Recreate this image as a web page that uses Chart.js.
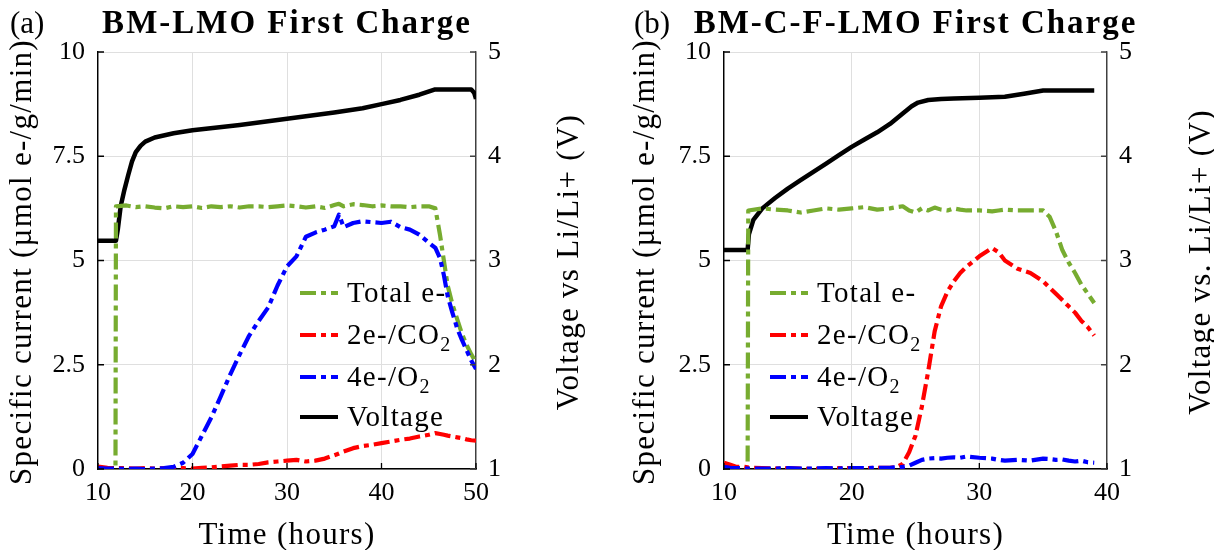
<!DOCTYPE html>
<html>
<head>
<meta charset="utf-8">
<script src="https://cdn.jsdelivr.net/npm/chart.js@4"></script>
<style>
  body { margin: 0; background: #fff; }
  #wrap { position: relative; width: 1214px; height: 550px; }
  canvas { position: absolute; top: 0; }
</style>
</head>
<body>
<div id="wrap">
  <canvas id="chartA" width="607" height="550" style="left:0"></canvas>
  <canvas id="chartB" width="607" height="550" style="left:607px"></canvas>
</div>
<script>
// (a) BM-LMO first charge
const timeA = [10, 11, 11.85, 11.9, 13, 14, 15, 16, 17, 18, 19, 20, 21, 22, 23, 24, 25, 26, 27, 28, 29, 30, 31, 32, 33, 34, 35, 35.5,
               36, 37, 38, 39, 40, 41, 42, 43, 44, 45, 45.7, 46.2, 46.6, 47, 47.5, 48, 48.5, 49, 49.5, 50];
const totalA = [0, 0, 0, 6.3, 6.32, 6.28, 6.3, 6.27, 6.25, 6.3, 6.28, 6.3, 6.26, 6.3, 6.28, 6.3, 6.27, 6.3, 6.3, 6.28, 6.3, 6.32, 6.3, 6.27, 6.3, 6.26, 6.33, 6.36,
                6.3, 6.35, 6.33, 6.3, 6.32, 6.3, 6.3, 6.28, 6.3, 6.3, 6.25, 5.6, 5.0, 4.4, 3.95, 3.6, 3.25, 2.98, 2.75, 2.55];
const co2A = [0.06, 0.03, 0.02, 0.02, 0.02, 0.01, 0.02, 0.01, 0.02, 0.02, 0.02, 0.01, 0.03, 0.04, 0.06, 0.08, 0.1, 0.1, 0.12, 0.16, 0.18, 0.2, 0.22, 0.18, 0.2, 0.25, 0.33, 0.37,
              0.42, 0.5, 0.55, 0.58, 0.62, 0.66, 0.7, 0.73, 0.78, 0.82, 0.86, 0.84, 0.82, 0.8, 0.78, 0.76, 0.74, 0.71, 0.69, 0.68];
const o2A = [0.02, 0.01, 0.01, 0.01, 0, 0.01, 0, 0.01, 0.02, 0.05, 0.15, 0.36, 0.8, 1.24, 1.75, 2.27, 2.75, 3.2, 3.55, 3.87, 4.4, 4.86, 5.1, 5.57, 5.67, 5.74, 5.82, 6.1,
             5.8, 5.9, 5.94, 5.92, 5.9, 5.93, 5.8, 5.74, 5.62, 5.43, 5.3, 5.05, 4.65, 4.15, 3.75, 3.38, 3.1, 2.85, 2.6, 2.4];
const voltTimeA = [10, 11.9, 12.1, 12.4, 12.8, 13.2, 13.6, 14, 14.5, 15, 16, 18, 20, 25, 30, 35, 38, 40, 42, 44, 45.6, 49.5, 49.8, 50];
const voltA = [3.19, 3.19, 3.3, 3.52, 3.68, 3.82, 3.95, 4.04, 4.1, 4.14, 4.18, 4.22, 4.25, 4.3, 4.36, 4.42, 4.46, 4.5, 4.54, 4.59, 4.64, 4.64, 4.61, 4.55];

// (b) BM-C-F-LMO first charge
const timeB = [10, 10.5, 11, 11.5, 11.85, 11.9, 13, 14, 15, 16, 17, 18, 19, 20, 21, 22, 23, 23.5, 24, 24.5, 25, 25.5, 26, 26.5, 27, 27.5, 28, 28.5,
               29, 30, 31, 31.5, 32, 33, 34, 35, 35.5, 36, 36.5, 37, 37.5, 38, 38.5, 39];
const totalB = [0, 0, 0, 0, 0, 6.2, 6.25, 6.22, 6.2, 6.15, 6.2, 6.25, 6.22, 6.25, 6.28, 6.22, 6.25, 6.28, 6.3, 6.2, 6.15, 6.25, 6.2, 6.27, 6.22, 6.2, 6.25, 6.22,
                6.2, 6.2, 6.18, 6.2, 6.22, 6.2, 6.2, 6.2, 6.05, 5.7, 5.25, 4.95, 4.7, 4.42, 4.2, 3.98];
const co2B = [0.15, 0.1, 0.05, 0.06, 0.04, 0.03, 0.02, 0.01, 0.02, 0.01, 0, 0.01, 0.02, 0.02, 0.02, 0.03, 0.03, 0.05, 0.12, 0.4, 0.8, 1.5, 2.35, 3.3, 3.9, 4.25, 4.5, 4.7,
              4.85, 5.1, 5.3, 5.2, 5.0, 4.8, 4.7, 4.5, 4.35, 4.2, 4.05, 3.9, 3.75, 3.55, 3.4, 3.2];
const o2B = [0.05, 0.03, 0.02, 0.02, 0.01, 0.01, 0.01, 0.01, 0.02, 0.01, 0.01, 0.02, 0.01, 0.02, 0.02, 0.03, 0.03, 0.04, 0.05, 0.08, 0.15, 0.22, 0.25, 0.26, 0.25, 0.27, 0.28, 0.27,
             0.3, 0.27, 0.25, 0.22, 0.2, 0.22, 0.2, 0.25, 0.24, 0.22, 0.23, 0.2, 0.18, 0.2, 0.16, 0.15];
const voltTimeB = [10, 11.85, 11.95, 12.3, 13, 14, 15, 16, 17, 18, 19, 20, 21, 22, 23, 24, 24.7, 25.2, 26, 27, 28, 30, 32, 33.5, 35, 39];
const voltB = [3.1, 3.1, 3.25, 3.39, 3.5, 3.6, 3.69, 3.77, 3.85, 3.93, 4.01, 4.09, 4.16, 4.23, 4.31, 4.41, 4.48, 4.515, 4.54, 4.55, 4.553, 4.56, 4.57, 4.6, 4.63, 4.63];

// ticks and labels
const xTicksA = [10, 20, 30, 40, 50];
const xTicksB = [10, 20, 30, 40];
const currentTicks = [0, 2.5, 5, 7.5, 10];
const voltTicks = [1, 2, 3, 4, 5];
const seriesNames = ["Total e-", "2e-/CO", "4e-/O", "Voltage"];

const FONT = "'Liberation Serif', 'Times New Roman', serif";
const GREEN = "#77AC30", RED = "#FF0000", BLUE = "#0000FF";
const DASH = [16, 5, 5, 5];
const LW = 4.2;

function pts(xs, ys) {
    return xs.map((x, i) => ({ x: x, y: ys[i] }));
}

function rotText(ctx, text, x, y) {
    ctx.save();
    ctx.translate(x, y);
    ctx.rotate(-Math.PI / 2);
    ctx.textAlign = "center";
    ctx.textBaseline = "alphabetic";
    ctx.fillText(text, 0, 0);
    ctx.restore();
}

// titles, axis labels, inward ticks and legend
const decor = {
    id: "decor",
    afterDraw(chart, args, o) {
        const ctx = chart.ctx;
        const a = chart.chartArea;
        const midX = (a.left + a.right) / 2;
        ctx.save();

        // inward tick marks
        ctx.lineWidth = 1.3;
        ctx.strokeStyle = "#000";
        ctx.beginPath();
        chart.scales.x.ticks.forEach(t => {
            const px = chart.scales.x.getPixelForValue(t.value);
            ctx.moveTo(px, a.bottom); ctx.lineTo(px, a.bottom - 6);
        });
        chart.scales.y.ticks.forEach(t => {
            const py = chart.scales.y.getPixelForValue(t.value);
            ctx.moveTo(a.left, py); ctx.lineTo(a.left + 6, py);
        });
        ctx.stroke();
        ctx.strokeStyle = "#404040";
        ctx.beginPath();
        chart.scales.y2.ticks.forEach(t => {
            const py = chart.scales.y2.getPixelForValue(t.value);
            ctx.moveTo(a.right, py); ctx.lineTo(a.right - 6, py);
        });
        ctx.stroke();

        ctx.fillStyle = "#000";
        ctx.textBaseline = "alphabetic";

        // panel tag and title
        ctx.letterSpacing = "0px";
        ctx.font = "31px " + FONT;
        ctx.textAlign = "left";
        ctx.fillText(o.tag, o.tagX, 33);
        ctx.font = "bold 33px " + FONT;
        ctx.letterSpacing = "2px";
        ctx.textAlign = "center";
        ctx.fillText(o.title, midX, 33);

        // axis titles
        ctx.font = "31px " + FONT;
        ctx.letterSpacing = "1.3px";
        ctx.fillText("Time (hours)", midX, 544);
        rotText(ctx, "Specific current (µmol e-/g/min)", o.leftX, 262);
        rotText(ctx, o.rightTitle, o.rightX, 262);

        // legend
        const styles = [
            { c: GREEN, d: DASH }, { c: RED, d: DASH }, { c: BLUE, d: DASH }, { c: "#000", d: [] }
        ];
        const rows = [293, 335, 377, 417];
        ctx.textAlign = "left";
        seriesNames.forEach((name, i) => {
            const y = rows[i];
            ctx.strokeStyle = styles[i].c;
            ctx.lineWidth = LW;
            ctx.setLineDash(styles[i].d);
            ctx.beginPath();
            ctx.moveTo(o.legX, y); ctx.lineTo(o.legX + 38, y);
            ctx.stroke();
            ctx.setLineDash([]);
            ctx.font = "29px " + FONT;
            ctx.letterSpacing = "1.3px";
            ctx.fillText(name, o.legX + 47, y + 9);
            if (i === 1 || i === 2) {
                const w = ctx.measureText(name).width;
                ctx.font = "20px " + FONT;
                ctx.letterSpacing = "0px";
                ctx.fillText("2", o.legX + 47 + w, y + 16);
            }
        });

        ctx.restore();
    }
};

function makeChart(id, p) {
    const ax = (size) => ({ family: FONT, size: size });
    return new Chart(document.getElementById(id), {
        type: "line",
        data: {
            datasets: [
                { label: "4e-/O2", data: pts(p.time, p.o2), borderColor: BLUE, borderDash: DASH, borderWidth: LW, yAxisID: "y", order: 0 },
                { label: "2e-/CO2", data: pts(p.time, p.co2), borderColor: RED, borderDash: DASH, borderWidth: LW, yAxisID: "y", order: 1 },
                { label: "Total e-", data: pts(p.time, p.total), borderColor: GREEN, borderDash: DASH, borderWidth: LW, yAxisID: "y", order: 2 },
                { label: "Voltage", data: pts(p.voltTime, p.volt), borderColor: "#000", borderWidth: 4.5, yAxisID: "y2", order: 3 }
            ]
        },
        options: {
            responsive: false,
            animation: false,
            devicePixelRatio: 1,
            layout: { padding: { top: 52, left: 0, right: 0, bottom: 0 } },
            elements: { point: { radius: 0 }, line: { tension: 0, fill: false, borderJoinStyle: "round" } },
            plugins: {
                legend: { display: false },
                tooltip: { enabled: false },
                decor: p.decor
            },
            scales: {
                x: {
                    type: "linear", position: "bottom", min: 10, max: p.xMax,
                    afterBuildTicks: s => { s.ticks = p.xTicks.map(v => ({ value: v })); },
                    afterFit: s => { s.height = 81; },
                    ticks: { font: ax(26), color: "#000", padding: 9, maxRotation: 0 },
                    grid: { color: "#dfdfdf", drawTicks: false },
                    border: { color: "#000", width: 1.4 }
                },
                y: {
                    position: "left", min: 0, max: 10,
                    afterBuildTicks: s => { s.ticks = currentTicks.map(v => ({ value: v })); },
                    afterFit: s => { s.width = p.leftW; },
                    ticks: { font: ax(26), color: "#000", padding: 13 },
                    grid: { color: "#dfdfdf", drawTicks: false },
                    border: { color: "#000", width: 1.4 }
                },
                y2: {
                    position: "right", min: 1, max: 5,
                    afterBuildTicks: s => { s.ticks = voltTicks.map(v => ({ value: v })); },
                    afterFit: s => { s.width = p.rightW; },
                    ticks: { font: ax(26), color: "#000", padding: 12 },
                    grid: { display: false, drawTicks: false },
                    border: { color: "#404040", width: 1.4 }
                }
            }
        },
        plugins: [decor]
    });
}

makeChart("chartA", {
    time: timeA, total: totalA, co2: co2A, o2: o2A, voltTime: voltTimeA, volt: voltA,
    xMax: 50, xTicks: xTicksA, leftW: 98, rightW: 131,
    decor: { tag: "(a)", tagX: 10, title: "BM-LMO First Charge", leftX: 31, rightX: 578,
             rightTitle: "Voltage vs Li/Li+ (V)", legX: 300 }
});

makeChart("chartB", {
    time: timeB, total: totalB, co2: co2B, o2: o2B, voltTime: voltTimeB, volt: voltB,
    xMax: 40, xTicks: xTicksB, leftW: 117, rightW: 107,
    decor: { tag: "(b)", tagX: 27, title: "BM-C-F-LMO First Charge", leftX: 47, rightX: 603,
             rightTitle: "Voltage vs. Li/Li+ (V)", legX: 163 }
});
</script>
</body>
</html>
